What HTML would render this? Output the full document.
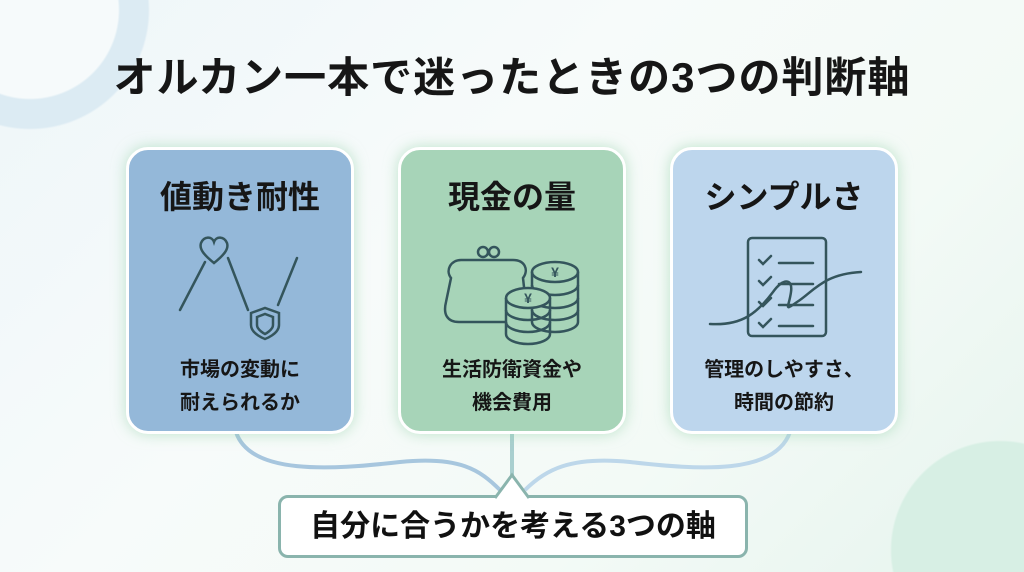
<!DOCTYPE html>
<html><head><meta charset="utf-8"><style>
html,body{margin:0;width:1024px;height:572px;overflow:hidden}
body{position:relative;font-family:"Liberation Sans","Noto Sans CJK JP",sans-serif;background:
radial-gradient(circle at 30px 10px,#f6fafb 0,#f6fafb 88px,#dcebf3 90px,#dcebf3 118px,rgba(220,235,243,0) 120px),
radial-gradient(circle at 1000px 550px,#d7efe4 0,#d7efe4 108px,rgba(215,239,228,0) 110px),
linear-gradient(135deg,#eef6f9 0%,#f7fbfa 40%,#f3faf6 70%,#e6f4ee 100%);}
.t{position:absolute;left:0;width:1024px;top:44px;text-align:center;font-size:42px;font-weight:bold;color:#161616;letter-spacing:1px}
.c{position:absolute;top:147px;width:222px;height:281px;border:3px solid #fff;border-radius:22px;box-shadow:0 0 14px rgba(150,210,170,.6);text-align:center;color:#161616}
.c h2{margin:22px 0 0;font-size:32px;font-weight:bold;}
.c p{position:absolute;left:0;right:0;top:204px;margin:0;font-size:20px;font-weight:bold;line-height:33px}
.c svg{position:absolute;left:0;top:80px}
.b{position:absolute;left:278px;top:495px;width:464px;height:57px;border:3px solid #8ab4ad;border-radius:10px;background:#fff;text-align:center;line-height:57px;font-size:30px;font-weight:bold;color:#111}
</style></head><body>
<div class="t">オルカン一本で迷ったときの3つの判断軸</div>
<svg style="position:absolute;left:0;top:0" width="1024" height="572">
<path d="M236 432 C250 475 330 470 400 462 C460 456 480 470 500 490" fill="none" stroke="#a7c6de" stroke-width="4"/>
<path d="M790 432 C775 475 700 470 630 462 C570 456 545 470 525 490" fill="none" stroke="#bdd7ea" stroke-width="4"/>
<line x1="512" y1="430" x2="512" y2="475" stroke="#a9cfcf" stroke-width="4"/>
</svg>
<div class="c" style="left:126px;background:#94b8d9">
<h2>値動き耐性</h2>
<svg width="222" height="130"><g fill="none" stroke="#34555c" stroke-width="2.5" stroke-linecap="round">
<path d="M85 33 C75 25 70 19 72 13 C75 6 83 6 85 12 C87 6 95 6 98 13 C100 19 95 25 85 33Z"/>
<path d="M51 80 L76 32"/><path d="M99 28 L119 80"/><path d="M149 75 L168 28"/>
<path d="M122 83 L136 78 L150 83 L150 95 C150 104 136 109 136 109 C136 109 122 104 122 95Z"/>
<path d="M128 87 L136 84 L144 87 L144 95 C144 100 136 104 136 104 C136 104 128 100 128 95Z"/></g></svg>
<p>市場の変動に<br>耐えられるか</p></div>
<div class="c" style="left:398px;background:#a7d4b8">
<h2>現金の量</h2>
<svg width="222" height="130"><g fill="none" stroke="#34555c" stroke-width="2.5">
<circle cx="82" cy="22" r="5"/><circle cx="93" cy="22" r="5"/>
<path d="M105 92 L58 92 C46 92 42 84 45 72 L50 48 C44 40 50 30 60 30 L112 30 C124 30 128 40 122 48 L124 66"/>
<ellipse cx="154" cy="42" rx="23" ry="10"/><path d="M131 42 V92 M177 42 V92"/>
<path d="M131 55 A23 10 0 0 0 177 55 M131 68 A23 10 0 0 0 177 68 M131 80 A23 10 0 0 0 177 80 M131 92 A23 10 0 0 0 177 92"/>
<ellipse cx="127" cy="68" rx="22" ry="10" fill="#a7d4b8"/><path d="M105 68 V104 M149 68 V104"/>
<path d="M105 80 A22 10 0 0 0 149 80 M105 92 A22 10 0 0 0 149 92 M105 104 A22 10 0 0 0 149 104"/>
</g><text x="154" y="47" font-size="14" text-anchor="middle" fill="#34555c" font-weight="bold">¥</text><text x="127" y="73" font-size="14" text-anchor="middle" fill="#34555c" font-weight="bold">¥</text></svg>
<p>生活防衛資金や<br>機会費用</p></div>
<div class="c" style="left:670px;background:#bdd6ed">
<h2>シンプルさ</h2>
<svg width="222" height="130"><g fill="none" stroke="#34555c" stroke-width="2.5" stroke-linecap="round">
<rect x="75" y="8" width="78" height="98" rx="4"/>
<path d="M86 30 l4 4 l8 -8 M86 51 l4 4 l8 -8 M86 72 l4 4 l8 -8 M86 93 l4 4 l8 -8"/>
<path d="M106 33 H140 M106 54 H140 M106 75 H140 M106 96 H140"/>
<path d="M37 94 C70 96 85 82 100 62 C110 48 120 48 118 62 C116 77 110 82 124 72 C140 62 150 44 188 42"/></g></svg>
<p>管理のしやすさ、<br>時間の節約</p></div>
<div class="b">自分に合うかを考える3つの軸</div>
<svg style="position:absolute;left:495px;top:472px" width="36" height="28"><path d="M0 26 L17 3 L34 26" fill="#fff" stroke="#8ab4ad" stroke-width="3"/></svg>
</body></html>
